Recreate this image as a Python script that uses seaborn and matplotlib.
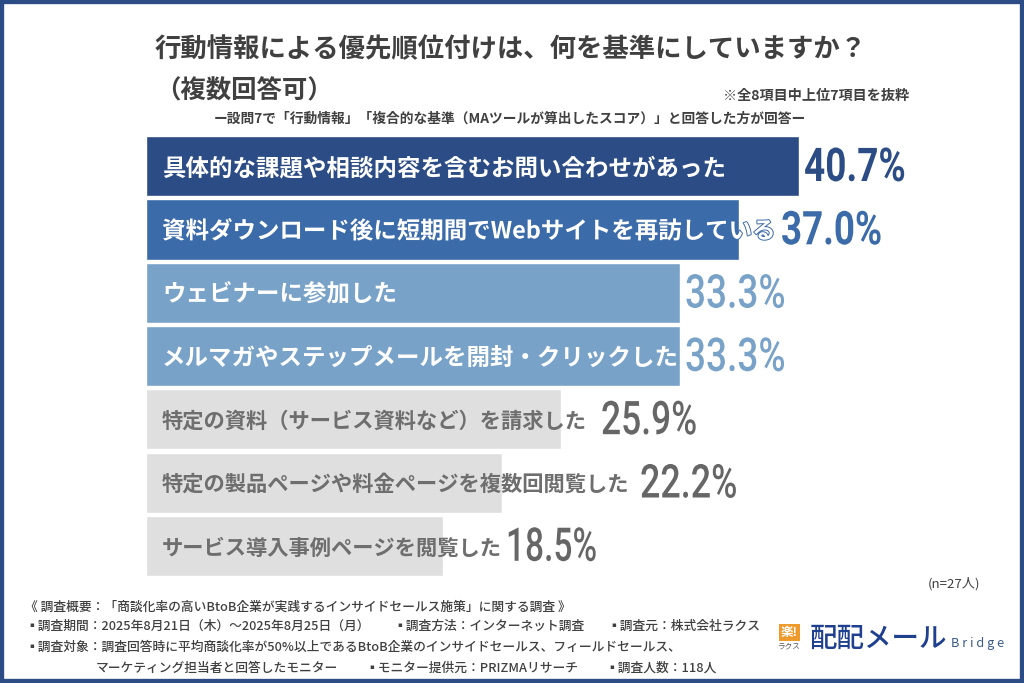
import matplotlib
matplotlib.use("Agg")
import matplotlib.pyplot as plt
import matplotlib.patheffects as pe
from matplotlib.patches import Rectangle
from matplotlib.transforms import Affine2D
import pandas as pd
import seaborn as sns

sns.set_theme(style="white")
plt.rcParams["font.family"] = ["Noto Sans CJK JP", "DejaVu Sans"]

FIG_W, FIG_H = 1024, 683
DARK = "#404040"

categories = [
    "具体的な課題や相談内容を含むお問い合わせがあった",
    "資料ダウンロード後に短期間でWebサイトを再訪している",
    "ウェビナーに参加した",
    "メルマガやステップメールを開封・クリックした",
    "特定の資料（サービス資料など）を請求した",
    "特定の製品ページや料金ページを複数回閲覧した",
    "サービス導入事例ページを閲覧した",
]
values = [40.7, 37.0, 33.3, 33.3, 25.9, 22.2, 18.5]
bar_colors = ["#2c4c85", "#3b6ba8", "#78a2c7", "#78a2c7", "#dfdfdf", "#dfdfdf", "#dfdfdf"]
text_colors = ["white", "white", "white", "white", "#6e6e6e", "#6e6e6e", "#6e6e6e"]
value_colors = ["#2c4c85", "#3b6ba8", "#78a2c7", "#78a2c7", "#666666", "#666666", "#666666"]
value_weights = ["bold", "bold", "medium", "medium", "medium", "medium", "medium"]
value_x_px = [804, 781, 685, 685, 601, 640, 506]
value_squeeze = [0.795, 0.79, 0.795, 0.795, 0.76, 0.77, 0.72]

footer_lines = [
    (25, 607, "《 調査概要：「商談化率の高いBtoB企業が実践するインサイドセールス施策」に関する調査 》"),
    (25, 626, "▪調査期間：2025年8月21日（木）～2025年8月25日（月）"),
    (393, 626, "▪調査方法：インターネット調査"),
    (607, 626, "▪調査元：株式会社ラクス"),
    (25, 647, "▪調査対象：調査回答時に平均商談化率が50%以上であるBtoB企業のインサイドセールス、フィールドセールス、"),
    (96, 668, "マーケティング担当者と回答したモニター"),
    (365, 668, "▪モニター提供元：PRIZMAリサーチ"),
    (605, 668, "▪調査人数：118人"),
]

df = pd.DataFrame({"item": categories, "value": values})


class Condense(pe.AbstractPathEffect):
    """Squeeze a text horizontally about its anchor, no condensed font is installed."""

    def __init__(self, sx):
        super().__init__()
        self.sx = sx

    def draw_path(self, renderer, gc, tpath, affine, rgbFace=None):
        x0 = affine.get_matrix()[0, 2]
        squeezed = affine + Affine2D().translate(-x0, 0).scale(self.sx, 1).translate(x0, 0)
        renderer.draw_path(gc, tpath, squeezed, rgbFace)


fig = plt.figure(figsize=(FIG_W / 100, FIG_H / 100), dpi=100, facecolor="white")

# axes placed so one percent is 16.04 px and rows are 63.3 px
ax_left, ax_right = 146, 1000
ax_top, ax_bottom = 134.5, 577.6
ax = fig.add_axes([ax_left / FIG_W, 1 - ax_bottom / FIG_H,
                   (ax_right - ax_left) / FIG_W, (ax_bottom - ax_top) / FIG_H])
sns.barplot(data=df, x="value", y="item", hue="item", palette=bar_colors,
            legend=False, width=0.95, saturation=1, ax=ax)
ax.set_xlim(0, (ax_right - ax_left) / 16.04)
ax.set_ylim(6.5, -0.5)
ax.axis("off")


def px_text(x, y, s, **kw):
    """Text placed in reference pixel coordinates."""
    kw.setdefault("va", "center")
    return fig.text(x / FIG_W, 1 - y / FIG_H, s, **kw)


for i, (cat, val) in enumerate(zip(categories, values)):
    size = 16.9 if i < 4 else 15.3
    label = ax.text(1.0, i + 0.03, cat, color=text_colors[i], fontsize=size, fontweight="bold",
                    va="center", ha="left", clip_on=False, zorder=5)
    if i == 1:
        # the end of this label runs off the bar, it keeps a blue outline there
        label.set_path_effects([pe.withStroke(linewidth=1.4, foreground=bar_colors[1])])
    px_text(value_x_px[i], 168 + i * 63.3, f"{val:.1f}%", color=value_colors[i],
            fontsize=33.5, fontweight=value_weights[i], family=["Roboto", "DejaVu Sans"],
            path_effects=[Condense(value_squeeze[i])])

# title block
px_text(155, 50, "行動情報による優先順位付けは、何を基準にしていますか？",
        fontsize=19, fontweight="bold", color=DARK)
px_text(155, 91, "（複数回答可）", fontsize=18.3, fontweight="bold", color=DARK)
px_text(723, 96, "※全8項目中上位7項目を抜粋", fontsize=10.2, fontweight="bold", color=DARK)
px_text(214, 119, "ー設問7で「行動情報」「複合的な基準（MAツールが算出したスコア）」と回答した方が回答ー",
        fontsize=9.9, fontweight="bold", color=DARK)
px_text(928, 584, "(n=27人)", fontsize=9.5, color=DARK)

# survey footer
for x, y, line in footer_lines:
    px_text(x, y, line, fontsize=9.2, fontweight="medium", color=DARK)

# logo
fig.add_artist(Rectangle((779 / FIG_W, 1 - 641 / FIG_H), 21 / FIG_W, 17 / FIG_H,
                         transform=fig.transFigure, color="#ef9a2d", lw=0))
px_text(789.5, 632.5, "楽!", fontsize=9, fontweight="bold", color="white", ha="center")
px_text(789.5, 646, "ラクス", fontsize=5.5, color="#555555", ha="center")
px_text(810, 638, "配配メール", fontsize=19.8, fontweight="medium", color="#1f3f8f")
px_text(951, 643, "B r i d g e", fontsize=9.2, color="#3a5a8c")

# outer frame
fig.add_artist(Rectangle((0, 0), 1, 1, transform=fig.transFigure, fill=False,
                         edgecolor="#2c4c85", lw=6))

fig.savefig("out.png", dpi=100)
plt.close(fig)
